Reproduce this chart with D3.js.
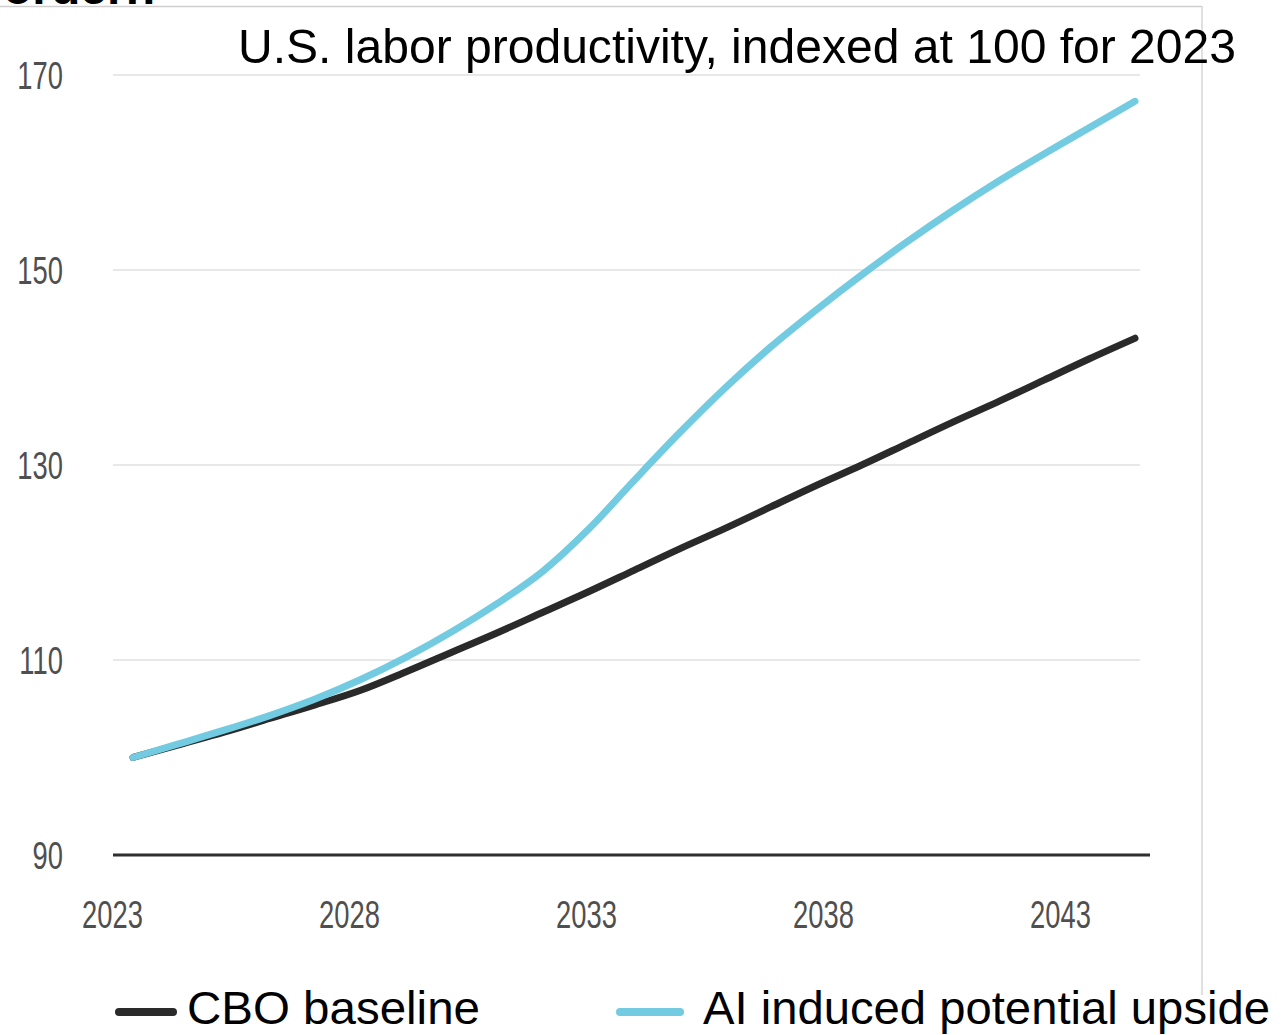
<!DOCTYPE html>
<html>
<head>
<meta charset="utf-8">
<script src="https://cdn.jsdelivr.net/npm/d3@7"></script>
<style>
  html, body { margin: 0; padding: 0; background: #ffffff; }
  svg { display: block; }
</style>
</head>
<body>
<svg id="chart" width="1284" height="1035"></svg>
<script>
// Labor productivity index (2023 = 100)
const years = [2023, 2024, 2025, 2026, 2027, 2028, 2029, 2030, 2031, 2032, 2033, 2034,
               2035, 2036, 2037, 2038, 2039, 2040, 2041, 2042, 2043, 2044, 2045];
const cboBaseline = [100.0, 101.3, 102.6, 104.0, 105.4, 106.9, 108.8, 110.8, 112.8, 114.9, 117.0, 119.2,
                     121.4, 123.5, 125.7, 127.9, 130.0, 132.2, 134.4, 136.5, 138.7, 140.9, 143.0];
const aiUpside    = [100.0, 101.4, 102.8, 104.3, 106.0, 108.0, 110.3, 112.9, 115.8, 119.1, 123.4, 128.4,
                     133.3, 137.9, 142.1, 145.9, 149.5, 152.9, 156.1, 159.1, 161.9, 164.6, 167.3];
const yTicks = [90, 110, 130, 150, 170];
const xTickLabels = [2023, 2028, 2033, 2038, 2043];
const seriesNames = ["CBO baseline", "AI induced potential upside"];
const chartTitle = "U.S. labor productivity, indexed at 100 for 2023";
const headline = "Produktivität fördern";

const svg = d3.select("#chart");
const sans = "'Liberation Sans', Arial, sans-serif";

const y = d3.scaleLinear().domain([90, 170]).range([855, 75]);
const xData = d3.scaleLinear().domain([2023, 2045]).range([133, 1135]);
const xLabel = d3.scaleLinear().domain([2023, 2043]).range([112, 1060]);

// Headline running off the top edge
svg.append("text")
  .attr("x", 155).attr("y", 4)
  .attr("text-anchor", "end")
  .attr("font-family", sans)
  .attr("font-weight", "bold")
  .attr("font-size", 48)
  .attr("fill", "#000")
  .text(headline);

// Thin frame
svg.append("line").attr("x1", 0).attr("x2", 1202).attr("y1", 6.5).attr("y2", 6.5)
  .attr("stroke", "#cfcfcf").attr("stroke-width", 1.5);
svg.append("line").attr("x1", 1202).attr("x2", 1202).attr("y1", 6).attr("y2", 995)
  .attr("stroke", "#d6d6d6").attr("stroke-width", 1.5);

// Gridlines
svg.append("g").selectAll("line")
  .data(yTicks.filter(d => d > 90))
  .join("line")
  .attr("x1", 113).attr("x2", 1140)
  .attr("y1", d => y(d)).attr("y2", d => y(d))
  .attr("stroke", "#e8e8e8").attr("stroke-width", 2);

// Baseline at the bottom of the scale
svg.append("line")
  .attr("x1", 113).attr("x2", 1150)
  .attr("y1", y(90)).attr("y2", y(90))
  .attr("stroke", "#2f2f2f").attr("stroke-width", 3);

// Condensed tick label styling
function styleTicks(sel, dy) {
  sel.selectAll("text")
    .attr("font-family", sans)
    .attr("font-size", 38)
    .attr("fill", "#4f4f4f")
    .attr("dy", dy)
    .attr("transform", "scale(0.72,1)");
}

// Y axis labels
const yAxis = d3.axisLeft(y).tickValues(yTicks).tickSize(0).tickPadding(0);
const gy = svg.append("g").attr("transform", "translate(63,0)").call(yAxis);
gy.select(".domain").remove();
styleTicks(gy, "0.36em");

// X axis labels
const xAxis = d3.axisBottom(xLabel).tickValues(xTickLabels).tickFormat(d3.format("d")).tickSize(0).tickPadding(0);
const gx = svg.append("g").attr("transform", "translate(0,901)").call(xAxis);
gx.select(".domain").remove();
styleTicks(gx, "0.71em");

// Lines
const line = d3.line()
  .x((d, i) => xData(years[i]))
  .y(d => y(d))
  .curve(d3.curveMonotoneX);

svg.append("path")
  .datum(cboBaseline)
  .attr("d", line)
  .attr("fill", "none")
  .attr("stroke", "#2a2a2a")
  .attr("stroke-width", 7)
  .attr("stroke-linecap", "round")
  .attr("stroke-linejoin", "round");

svg.append("path")
  .datum(aiUpside)
  .attr("d", line)
  .attr("fill", "none")
  .attr("stroke", "#72cbe1")
  .attr("stroke-width", 7)
  .attr("stroke-linecap", "round")
  .attr("stroke-linejoin", "round");

// Title
svg.append("text")
  .attr("x", 238).attr("y", 63)
  .attr("font-family", sans)
  .attr("font-size", 48)
  .attr("textLength", 998)
  .attr("lengthAdjust", "spacingAndGlyphs")
  .attr("fill", "#000")
  .text(chartTitle);

// Legend
const legend = [
  { name: seriesNames[0], color: "#2a2a2a", x1: 119, x2: 173, tx: 187, tw: 293 },
  { name: seriesNames[1], color: "#72cbe1", x1: 620, x2: 680, tx: 703, tw: 567 }
];
const lg = svg.append("g");
lg.selectAll("line")
  .data(legend)
  .join("line")
  .attr("x1", d => d.x1).attr("x2", d => d.x2)
  .attr("y1", 1012).attr("y2", 1012)
  .attr("stroke", d => d.color)
  .attr("stroke-width", 8)
  .attr("stroke-linecap", "round");
lg.selectAll("text")
  .data(legend)
  .join("text")
  .attr("x", d => d.tx).attr("y", 1024)
  .attr("font-family", sans)
  .attr("font-size", 46)
  .attr("textLength", d => d.tw)
  .attr("lengthAdjust", "spacingAndGlyphs")
  .attr("fill", "#000")
  .text(d => d.name);
</script>
</body>
</html>
